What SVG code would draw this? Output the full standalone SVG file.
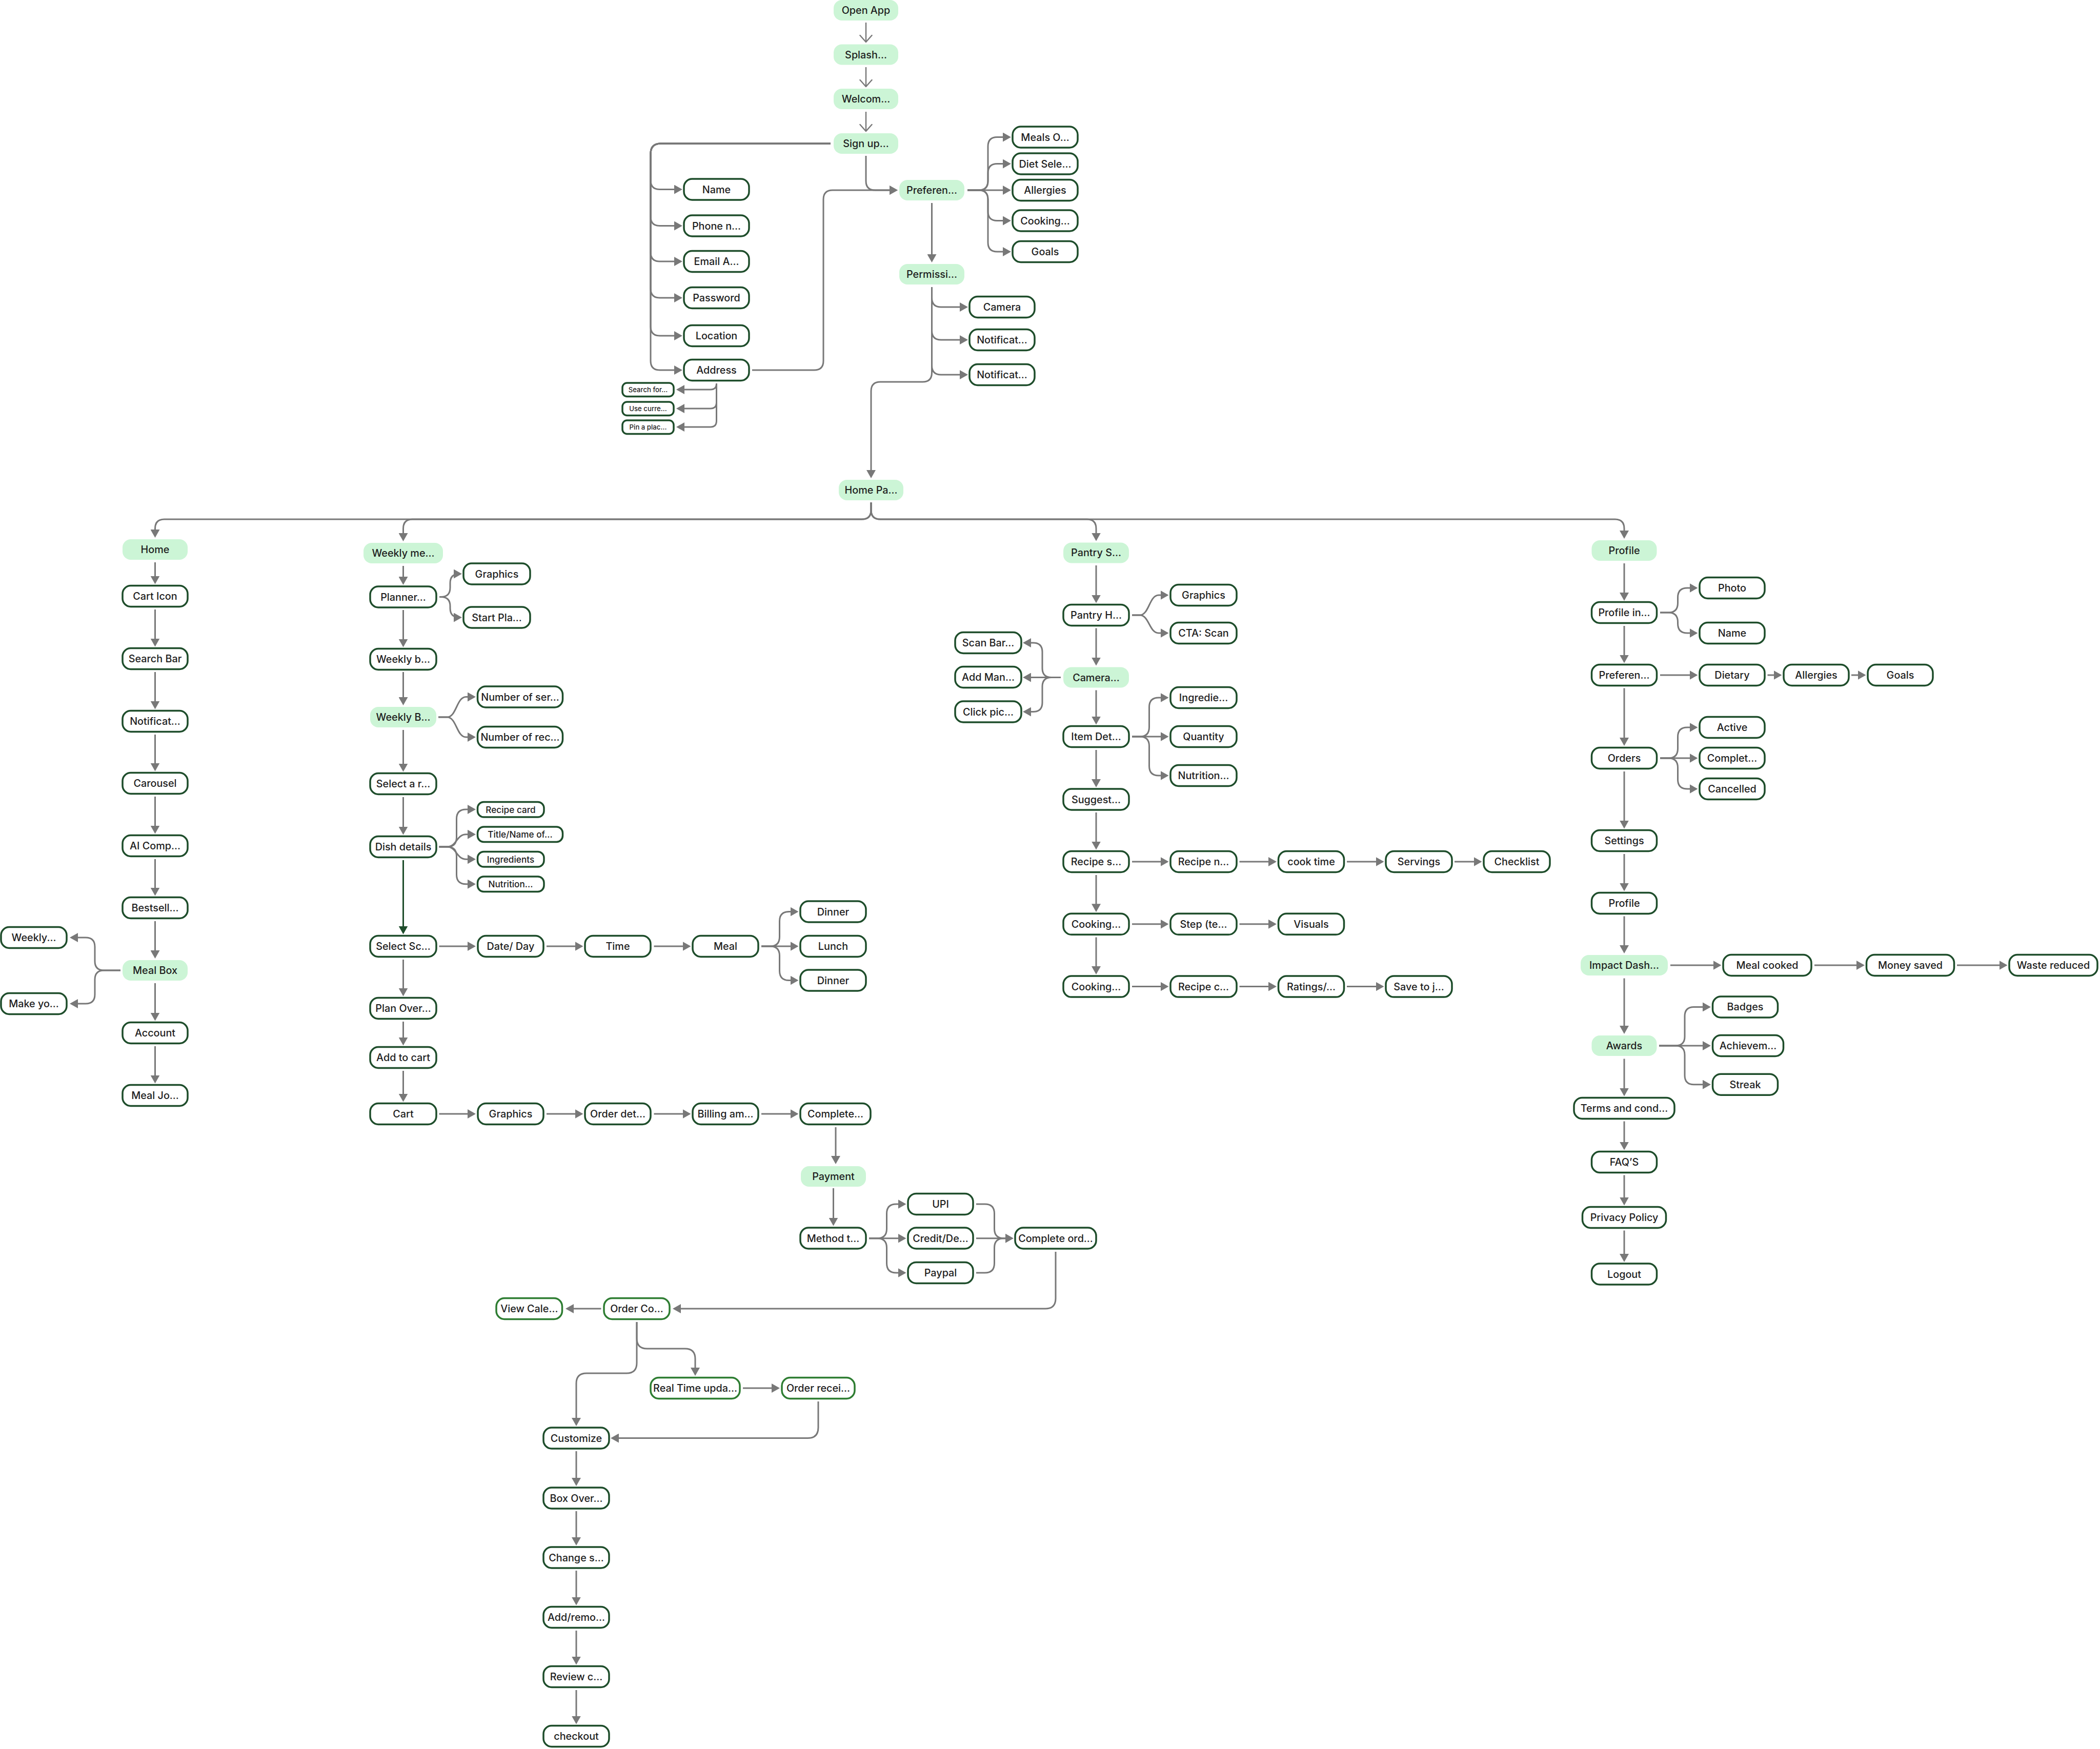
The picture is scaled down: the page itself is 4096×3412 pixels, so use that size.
<svg xmlns="http://www.w3.org/2000/svg" width="4096" height="3412" viewBox="0 0 4096 3412">
<style>
.w rect{fill:#ffffff;stroke:#1e4d2b;stroke-width:3.5}
.b rect{fill:#ffffff;stroke:#2e7d32;stroke-width:3.5}
.g rect{fill:#ccf5d6}
text{font-family:Inter,"Liberation Sans",sans-serif;font-size:19.8px;font-weight:500;fill:#1e1e1e;text-anchor:middle;dominant-baseline:central}
.s text{font-size:17.2px}
.t text{font-size:13.2px}
#connectors path{fill:none;stroke:#787878;stroke-width:3;marker-end:url(#a)}
#connectors path.v{stroke-width:2.5;marker-end:url(#v)}
#connectors path.d{stroke:#1e4d2b;marker-end:url(#ad)}
</style>
<defs>
<marker id="a" markerUnits="userSpaceOnUse" viewBox="0 0 16 18" markerWidth="16" markerHeight="18" refX="13" refY="9" orient="auto"><path d="M0,0L16,9L0,18z" fill="#787878"/></marker>
<marker id="ad" markerUnits="userSpaceOnUse" viewBox="0 0 16 18" markerWidth="16" markerHeight="18" refX="13" refY="9" orient="auto"><path d="M0,0L16,9L0,18z" fill="#1e4d2b"/></marker>
<marker id="v" markerUnits="userSpaceOnUse" viewBox="-2 -2 17 27" markerWidth="17" markerHeight="27" refX="13" refY="11.5" orient="auto"><path d="M0,0L13,11.5L0,23" fill="none" stroke="#787878" stroke-width="2.5" stroke-linejoin="round" stroke-linecap="round"/></marker>
</defs>
<rect x="0" y="0" width="4096" height="3412" fill="#ffffff"/>

<g id="connectors">
<path class="v" d="M1689,44V82"/>
<path class="v" d="M1689,131V169"/>
<path class="v" d="M1689,218V256"/>
<path d="M1620,280H1289Q1269,280 1269,300V351.5Q1269,369.5 1287,369.5H1328"/>
<path d="M1620,280H1289Q1269,280 1269,300V422.5Q1269,440.5 1287,440.5H1328"/>
<path d="M1620,280H1289Q1269,280 1269,300V492Q1269,510 1287,510H1328"/>
<path d="M1620,280H1289Q1269,280 1269,300V563Q1269,581 1287,581H1328"/>
<path d="M1620,280H1289Q1269,280 1269,300V637Q1269,655 1287,655H1328"/>
<path d="M1620,280H1289Q1269,280 1269,300V704Q1269,722 1287,722H1328"/>
<path d="M1689,304V353Q1689,371 1707,371H1748"/>
<path d="M1467,722H1588Q1606,722 1606,704V389Q1606,371 1624,371H1748"/>
<path d="M1887,371H1909Q1927,371 1927,353V285.5Q1927,267.5 1945,267.5H1969"/>
<path d="M1887,371H1909Q1927,371 1927,353V337.5Q1927,319.5 1945,319.5H1969"/>
<path d="M1887,371H1969"/>
<path d="M1887,371H1909Q1927,371 1927,389V412.5Q1927,430.5 1945,430.5H1969"/>
<path d="M1887,371H1909Q1927,371 1927,389V473Q1927,491 1945,491H1969"/>
<path d="M1817.5,396V509"/>
<path d="M1817.5,560V581Q1817.5,599 1835.5,599H1885"/>
<path d="M1817.5,560V645Q1817.5,663 1835.5,663H1885"/>
<path d="M1817.5,560V713Q1817.5,731 1835.5,731H1885"/>
<path d="M1817.5,560V727Q1817.5,745 1799.5,745H1717Q1699,745 1699,763V930"/>
<path d="M1397.5,748Q1397.5,760 1385.5,760H1322"/>
<path d="M1397.5,748V785Q1397.5,797 1385.5,797H1322"/>
<path d="M1397.5,748V821Q1397.5,833 1385.5,833H1322"/>
<path d="M1699,980V995Q1699,1013 1681,1013H320.5Q302.5,1013 302.5,1031V1046"/>
<path d="M1699,980V995Q1699,1013 1681,1013H804.5Q786.5,1013 786.5,1031V1053"/>
<path d="M1699,980V995Q1699,1013 1717,1013H2120Q2138,1013 2138,1031V1052.5"/>
<path d="M1699,980V995Q1699,1013 1717,1013H3150Q3168,1013 3168,1031V1048"/>
<path d="M302.5,1097V1136.5"/>
<path d="M302.5,1189V1258.5"/>
<path d="M302.5,1311V1380.5"/>
<path d="M302.5,1433V1501.5"/>
<path d="M302.5,1554V1623.5"/>
<path d="M302.5,1676V1744.5"/>
<path d="M302.5,1797V1867"/>
<path d="M302.5,1918V1988.5"/>
<path d="M302.5,2041V2110.5"/>
<path d="M235,1893H203Q185,1893 185,1875V1847Q185,1829 167,1829H139"/>
<path d="M235,1893H203Q185,1893 185,1911V1940Q185,1958 167,1958H139"/>
<path d="M786.5,1104V1138"/>
<path d="M786.5,1190V1259.5"/>
<path d="M786.5,1311V1373"/>
<path d="M786.5,1424V1502.5"/>
<path d="M786.5,1555V1625.5"/>
<path class="d" d="M786.5,1678V1819.5"/>
<path d="M786.5,1872V1940.5"/>
<path d="M786.5,1993V2036.5"/>
<path d="M786.5,2089V2146.5"/>
<path d="M857,1164.5H860Q878,1164.5 878,1146.5V1137.5Q878,1119.5 896,1119.5H898"/>
<path d="M857,1164.5H860Q878,1164.5 878,1182.5V1186.5Q878,1204.5 896,1204.5H898"/>
<path d="M855,1399H872C890.5,1399 890.5,1359.5 909,1359.5H925"/>
<path d="M855,1399H872C890.5,1399 890.5,1438 909,1438H925"/>
<path d="M856.5,1652H872Q890.5,1652 890.5,1633.5V1597.5Q890.5,1579 909,1579H925"/>
<path d="M856.5,1652H872C890.5,1652 890.5,1627.7 909,1627.7H925"/>
<path d="M856.5,1652H872C890.5,1652 890.5,1676.3 909,1676.3H925"/>
<path d="M856.5,1652H872Q890.5,1652 890.5,1670.5V1706.2Q890.5,1724.7 909,1724.7H925"/>
<path d="M856.5,1846H925"/>
<path d="M1066,1846H1134.5"/>
<path d="M1275.5,1846H1344.5"/>
<path d="M1485,1846H1502Q1520.5,1846 1520.5,1827.5V1797Q1520.5,1778.5 1539,1778.5H1554.5"/>
<path d="M1485,1846H1554.5"/>
<path d="M1485,1846H1502Q1520.5,1846 1520.5,1864.5V1894Q1520.5,1912.5 1539,1912.5H1554.5"/>
<path d="M856.5,2173H925"/>
<path d="M1066,2173H1134.5"/>
<path d="M1275.5,2173H1344.5"/>
<path d="M1485,2173H1554.5"/>
<path d="M1630,2199V2268"/>
<path d="M1625.5,2318V2388.5"/>
<path d="M1695,2415.7H1711Q1729.5,2415.7 1729.5,2397.2V2367.5Q1729.5,2349 1748,2349H1764.5"/>
<path d="M1695,2415.7H1764.5"/>
<path d="M1695,2415.7H1711Q1729.5,2415.7 1729.5,2434.2V2464.5Q1729.5,2483 1748,2483H1764.5"/>
<path d="M1904,2349H1921Q1939.5,2349 1939.5,2367.5V2397.2Q1939.5,2415.7 1958,2415.7H1973.5"/>
<path d="M1904,2415.7H1973.5"/>
<path d="M1904,2483H1921Q1939.5,2483 1939.5,2464.5V2434.2Q1939.5,2415.7 1958,2415.7H1973.5"/>
<path d="M2059,2442V2533Q2059,2553 2039,2553H1315"/>
<path d="M1172.5,2553H1106"/>
<path d="M1242,2579V2611Q1242,2631 1262,2631H1336Q1356,2631 1356,2651V2681"/>
<path d="M1242,2579V2659Q1242,2679 1222,2679H1144Q1124,2679 1124,2699V2779"/>
<path d="M1449,2708H1518"/>
<path d="M1596,2734V2785Q1596,2805.5 1575.5,2805.5H1194"/>
<path d="M1124,2831V2896"/>
<path d="M1124,2948V3012"/>
<path d="M1124,3064V3128.5"/>
<path d="M1124,3181V3244.5"/>
<path d="M1124,3297V3360.5"/>
<path d="M2138,1103V1173.5"/>
<path d="M2138,1225.5V1295.5"/>
<path d="M2138,1346.5V1410.5"/>
<path d="M2138,1463V1533"/>
<path d="M2138,1585V1654.5"/>
<path d="M2138,1707V1776.3"/>
<path d="M2138,1828.5V1898"/>
<path d="M2208,1200H2223C2241.5,1200 2241.5,1161 2260,1161H2276.5"/>
<path d="M2208,1200H2223C2241.5,1200 2241.5,1235 2260,1235H2276.5"/>
<path d="M2069,1321.5H2051Q2033,1321.5 2033,1303.5V1272Q2033,1254 2015,1254H1998"/>
<path d="M2069,1321.5H1998"/>
<path d="M2069,1321.5H2051Q2033,1321.5 2033,1339.5V1370.5Q2033,1388.5 2015,1388.5H1998"/>
<path d="M2208,1437H2223Q2241.5,1437 2241.5,1418.5V1379.5Q2241.5,1361 2260,1361H2276.5"/>
<path d="M2208,1437H2276.5"/>
<path d="M2208,1437H2223Q2241.5,1437 2241.5,1455.5V1494.5Q2241.5,1513 2260,1513H2276.5"/>
<path d="M2208,1681H2276.5"/>
<path d="M2417.5,1681H2487"/>
<path d="M2627,1681H2696.5"/>
<path d="M2837,1681H2887.5"/>
<path d="M2208,1802.8H2276.5"/>
<path d="M2417.5,1802.8H2487"/>
<path d="M2208,1924.6H2276.5"/>
<path d="M2417.5,1924.6H2487"/>
<path d="M2627,1924.6H2696.5"/>
<path d="M3168,1099V1169"/>
<path d="M3168,1221V1290.5"/>
<path d="M3168,1342.5V1452"/>
<path d="M3168,1505V1613.5"/>
<path d="M3168,1666V1735.5"/>
<path d="M3168,1787.5V1857"/>
<path d="M3168,1908.5V2014"/>
<path d="M3168,2065.5V2135.5"/>
<path d="M3168,2187.5V2240.5"/>
<path d="M3168,2292.5V2348.5"/>
<path d="M3168,2400.5V2459"/>
<path d="M3238,1195H3254Q3272.5,1195 3272.5,1176.5V1165.5Q3272.5,1147 3291,1147H3308.5"/>
<path d="M3238,1195H3254Q3272.5,1195 3272.5,1213.5V1216.5Q3272.5,1235 3291,1235H3308.5"/>
<path d="M3238,1317H3308.5"/>
<path d="M3447.5,1317H3472.5"/>
<path d="M3611,1317H3636.5"/>
<path d="M3238,1479H3254Q3272.5,1479 3272.5,1460.5V1437.5Q3272.5,1419 3291,1419H3308.5"/>
<path d="M3238,1479H3308.5"/>
<path d="M3238,1479H3254Q3272.5,1479 3272.5,1497.5V1520.5Q3272.5,1539 3291,1539H3308.5"/>
<path d="M3258,1883H3354.5"/>
<path d="M3539,1883H3634"/>
<path d="M3817,1883H3912.5"/>
<path d="M3236,2040H3268Q3286,2040 3286,2022V1982.4Q3286,1964.4 3304,1964.4H3334"/>
<path d="M3236,2040H3334"/>
<path d="M3236,2040H3268Q3286,2040 3286,2058V2097.7Q3286,2115.7 3304,2115.7H3334"/>
</g>

<!-- top flow -->
<g id="open-app" class="g"><rect x="1626" y="0" width="126" height="40" rx="16"/><text x="1689" y="20">Open App</text></g>
<g id="splash" class="g"><rect x="1626" y="86.5" width="126" height="40" rx="16"/><text x="1689" y="106.5">Splash...</text></g>
<g id="welcome" class="g"><rect x="1626" y="173" width="126" height="40" rx="16"/><text x="1689" y="193">Welcom...</text></g>
<g id="signup" class="g"><rect x="1626" y="260" width="126" height="40" rx="16"/><text x="1689" y="280">Sign up...</text></g>
<g id="name" class="w"><rect x="1334" y="349" width="127" height="41" rx="16"/><text x="1397.5" y="369.5">Name</text></g>
<g id="phone" class="w"><rect x="1334" y="420" width="127" height="41" rx="16"/><text x="1397.5" y="440.5">Phone n...</text></g>
<g id="email" class="w"><rect x="1334" y="489.5" width="127" height="41" rx="16"/><text x="1397.5" y="510">Email A...</text></g>
<g id="password" class="w"><rect x="1334" y="560.5" width="127" height="41" rx="16"/><text x="1397.5" y="581">Password</text></g>
<g id="location" class="w"><rect x="1334" y="634.5" width="127" height="41" rx="16"/><text x="1397.5" y="655">Location</text></g>
<g id="address" class="w"><rect x="1334" y="701.5" width="127" height="41" rx="16"/><text x="1397.5" y="722">Address</text></g>
<g id="search-for" class="w t"><rect x="1214" y="747" width="100" height="26.5" rx="9"/><text x="1264" y="760">Search for...</text></g>
<g id="use-current" class="w t"><rect x="1214" y="784" width="100" height="26.5" rx="9"/><text x="1264" y="797">Use curre...</text></g>
<g id="pin-place" class="w t"><rect x="1214" y="820" width="100" height="26.5" rx="9"/><text x="1264" y="833">Pin a plac...</text></g>
<g id="preferences" class="g"><rect x="1754" y="351" width="127" height="40" rx="16"/><text x="1817.5" y="371">Preferen...</text></g>
<g id="meals-o" class="w"><rect x="1975" y="247" width="127" height="41" rx="16"/><text x="2038.5" y="267.5">Meals O...</text></g>
<g id="diet-sel" class="w"><rect x="1975" y="299" width="127" height="41" rx="16"/><text x="2038.5" y="319.5">Diet Sele...</text></g>
<g id="allergies" class="w"><rect x="1975" y="350.5" width="127" height="41" rx="16"/><text x="2038.5" y="371">Allergies</text></g>
<g id="cooking-pref" class="w"><rect x="1975" y="410" width="127" height="41" rx="16"/><text x="2038.5" y="430.5">Cooking...</text></g>
<g id="goals" class="w"><rect x="1975" y="470.5" width="127" height="41" rx="16"/><text x="2038.5" y="491">Goals</text></g>
<g id="permissions" class="g"><rect x="1754" y="515" width="127" height="40" rx="16"/><text x="1817.5" y="535">Permissi...</text></g>
<g id="perm-camera" class="w"><rect x="1891" y="578.5" width="127" height="41" rx="16"/><text x="1954.5" y="599">Camera</text></g>
<g id="perm-notif1" class="w"><rect x="1891" y="642.5" width="127" height="41" rx="16"/><text x="1954.5" y="663">Notificat...</text></g>
<g id="perm-notif2" class="w"><rect x="1891" y="710.5" width="127" height="41" rx="16"/><text x="1954.5" y="731">Notificat...</text></g>
<g id="home-page" class="g"><rect x="1636" y="936" width="126" height="40" rx="16"/><text x="1699" y="956">Home Pa...</text></g>

<!-- home column -->
<g id="home" class="g"><rect x="239" y="1052" width="127" height="40" rx="16"/><text x="302.5" y="1072">Home</text></g>
<g id="cart-icon" class="w"><rect x="239" y="1142.5" width="127" height="41" rx="16"/><text x="302.5" y="1163">Cart Icon</text></g>
<g id="search-bar" class="w"><rect x="239" y="1264.5" width="127" height="41" rx="16"/><text x="302.5" y="1285">Search Bar</text></g>
<g id="home-notif" class="w"><rect x="239" y="1386.5" width="127" height="41" rx="16"/><text x="302.5" y="1407">Notificat...</text></g>
<g id="carousel" class="w"><rect x="239" y="1507.5" width="127" height="41" rx="16"/><text x="302.5" y="1528">Carousel</text></g>
<g id="ai-comp" class="w"><rect x="239" y="1629.5" width="127" height="41" rx="16"/><text x="302.5" y="1650">AI Comp...</text></g>
<g id="bestsell" class="w"><rect x="239" y="1750.5" width="127" height="41" rx="16"/><text x="302.5" y="1771">Bestsell...</text></g>
<g id="meal-box" class="g"><rect x="239" y="1873" width="127" height="40" rx="16"/><text x="302.5" y="1893">Meal Box</text></g>
<g id="account" class="w"><rect x="239" y="1994.5" width="127" height="41" rx="16"/><text x="302.5" y="2015">Account</text></g>
<g id="meal-jo" class="w"><rect x="239" y="2116.5" width="127" height="41" rx="16"/><text x="302.5" y="2137">Meal Jo...</text></g>
<g id="weekly-left" class="w"><rect x="2" y="1808.5" width="128" height="41" rx="16"/><text x="66" y="1829">Weekly...</text></g>
<g id="make-yo" class="w"><rect x="2" y="1937.5" width="128" height="41" rx="16"/><text x="66" y="1958">Make yo...</text></g>

<!-- weekly column -->
<g id="weekly-me" class="g"><rect x="709" y="1059" width="155" height="40" rx="16"/><text x="786.5" y="1079">Weekly me...</text></g>
<g id="planner" class="w"><rect x="722" y="1144" width="129" height="41" rx="16"/><text x="786.5" y="1164.5">Planner...</text></g>
<g id="w-graphics" class="w"><rect x="904" y="1099" width="130" height="41" rx="16"/><text x="969" y="1119.5">Graphics</text></g>
<g id="start-pla" class="w"><rect x="904" y="1184" width="130" height="41" rx="16"/><text x="969" y="1204.5">Start Pla...</text></g>
<g id="weekly-b" class="w"><rect x="722" y="1265.5" width="129" height="41" rx="16"/><text x="786.5" y="1286">Weekly b...</text></g>
<g id="weekly-B" class="g"><rect x="722" y="1379" width="129" height="40" rx="16"/><text x="786.5" y="1399">Weekly B...</text></g>
<g id="num-ser" class="w"><rect x="931.5" y="1339" width="166" height="41" rx="16"/><text x="1014.5" y="1359.5">Number of ser...</text></g>
<g id="num-rec" class="w"><rect x="931.5" y="1417.5" width="166" height="41" rx="16"/><text x="1014.5" y="1438">Number of rec...</text></g>
<g id="select-r" class="w"><rect x="722" y="1508.5" width="129" height="41" rx="16"/><text x="786.5" y="1529">Select a r...</text></g>
<g id="dish" class="w"><rect x="722" y="1631.5" width="129" height="41" rx="16"/><text x="786.5" y="1652">Dish details</text></g>
<g id="recipe-card" class="w s"><rect x="931.5" y="1564.5" width="129.5" height="29.5" rx="12"/><text x="996" y="1579">Recipe card</text></g>
<g id="title-name" class="w s"><rect x="931.5" y="1613" width="166" height="29.5" rx="12"/><text x="1014.5" y="1627.7">Title/Name of...</text></g>
<g id="ingredients" class="w s"><rect x="931.5" y="1661.5" width="129.5" height="29.5" rx="12"/><text x="996" y="1676.3">Ingredients</text></g>
<g id="nutrition-w" class="w s"><rect x="931.5" y="1710" width="129.5" height="29.5" rx="12"/><text x="996" y="1724.7">Nutrition...</text></g>
<g id="select-sc" class="w"><rect x="722" y="1825.5" width="129" height="41" rx="16"/><text x="786.5" y="1846">Select Sc...</text></g>
<g id="date-day" class="w"><rect x="932" y="1825.5" width="128" height="41" rx="16"/><text x="996" y="1846">Date/ Day</text></g>
<g id="time" class="w"><rect x="1141" y="1825.5" width="128" height="41" rx="16"/><text x="1205" y="1846">Time</text></g>
<g id="meal" class="w"><rect x="1351" y="1825.5" width="128" height="41" rx="16"/><text x="1415" y="1846">Meal</text></g>
<g id="dinner1" class="w"><rect x="1561" y="1758" width="128" height="41" rx="16"/><text x="1625" y="1778.5">Dinner</text></g>
<g id="lunch" class="w"><rect x="1561" y="1825.5" width="128" height="41" rx="16"/><text x="1625" y="1846">Lunch</text></g>
<g id="dinner2" class="w"><rect x="1561" y="1892" width="128" height="41" rx="16"/><text x="1625" y="1912.5">Dinner</text></g>
<g id="plan-over" class="w"><rect x="722" y="1946.5" width="129" height="41" rx="16"/><text x="786.5" y="1967">Plan Over...</text></g>
<g id="add-cart" class="w"><rect x="722" y="2042.5" width="129" height="41" rx="16"/><text x="786.5" y="2063">Add to cart</text></g>
<g id="cart" class="w"><rect x="722" y="2152.5" width="129" height="41" rx="16"/><text x="786.5" y="2173">Cart</text></g>
<g id="c-graphics" class="w"><rect x="932" y="2152.5" width="128" height="41" rx="16"/><text x="996" y="2173">Graphics</text></g>
<g id="order-det" class="w"><rect x="1141" y="2152.5" width="128" height="41" rx="16"/><text x="1205" y="2173">Order det...</text></g>
<g id="billing" class="w"><rect x="1351" y="2152.5" width="128" height="41" rx="16"/><text x="1415" y="2173">Billing am...</text></g>
<g id="complete" class="w"><rect x="1561" y="2152.5" width="137" height="41" rx="16"/><text x="1629.5" y="2173">Complete...</text></g>
<g id="payment" class="g"><rect x="1562" y="2275" width="127" height="40" rx="16"/><text x="1625.5" y="2295">Payment</text></g>
<g id="method" class="w"><rect x="1561" y="2395" width="128" height="41" rx="16"/><text x="1625" y="2415.7">Method t...</text></g>
<g id="upi" class="w"><rect x="1771" y="2328.5" width="127" height="41" rx="16"/><text x="1834.5" y="2349">UPI</text></g>
<g id="credit" class="w"><rect x="1771" y="2395" width="127" height="41" rx="16"/><text x="1834.5" y="2415.7">Credit/De...</text></g>
<g id="paypal" class="w"><rect x="1771" y="2462.5" width="127" height="41" rx="16"/><text x="1834.5" y="2483">Paypal</text></g>
<g id="complete-ord" class="w"><rect x="1980" y="2395" width="158" height="41" rx="16"/><text x="2059" y="2415.7">Complete ord...</text></g>
<g id="order-co" class="b"><rect x="1178" y="2532.5" width="128" height="41" rx="16"/><text x="1242" y="2553">Order Co...</text></g>
<g id="view-cal" class="b"><rect x="968" y="2532.5" width="128.5" height="41" rx="16"/><text x="1032.3" y="2553">View Cale...</text></g>
<g id="real-time" class="b"><rect x="1269" y="2687.5" width="174" height="41" rx="16"/><text x="1356" y="2708">Real Time upda...</text></g>
<g id="order-rec" class="b"><rect x="1525" y="2687.5" width="142" height="41" rx="16"/><text x="1596" y="2708">Order recei...</text></g>
<g id="customize" class="w"><rect x="1060" y="2785" width="128" height="41" rx="16"/><text x="1124" y="2805.5">Customize</text></g>
<g id="box-over" class="w"><rect x="1060" y="2902" width="128" height="41" rx="16"/><text x="1124" y="2922.5">Box Over...</text></g>
<g id="change-s" class="w"><rect x="1060" y="3018" width="128" height="41" rx="16"/><text x="1124" y="3038.6">Change s...</text></g>
<g id="add-remove" class="w"><rect x="1060" y="3134.5" width="128" height="41" rx="16"/><text x="1124" y="3155">Add/remo...</text></g>
<g id="review" class="w"><rect x="1060" y="3250.5" width="128" height="41" rx="16"/><text x="1124" y="3271">Review c...</text></g>
<g id="checkout" class="w"><rect x="1060" y="3366.5" width="128" height="41" rx="16"/><text x="1124" y="3387">checkout</text></g>

<!-- pantry column -->
<g id="pantry-s" class="g"><rect x="2074" y="1058.5" width="128" height="40" rx="16"/><text x="2138" y="1078">Pantry S...</text></g>
<g id="pantry-h" class="w"><rect x="2074" y="1179.5" width="128" height="41" rx="16"/><text x="2138" y="1200">Pantry H...</text></g>
<g id="p-graphics" class="w"><rect x="2283" y="1140.5" width="129" height="41" rx="16"/><text x="2347.5" y="1161">Graphics</text></g>
<g id="cta-scan" class="w"><rect x="2283" y="1214.5" width="129" height="41" rx="16"/><text x="2347.5" y="1235">CTA: Scan</text></g>
<g id="camera" class="g"><rect x="2074" y="1301.5" width="128" height="40" rx="16"/><text x="2138" y="1321.5">Camera...</text></g>
<g id="scan-bar" class="w"><rect x="1863" y="1233.5" width="129" height="41" rx="16"/><text x="1927.5" y="1254">Scan Bar...</text></g>
<g id="add-man" class="w"><rect x="1863" y="1300.5" width="129" height="41" rx="16"/><text x="1927.5" y="1321">Add Man...</text></g>
<g id="click-pic" class="w"><rect x="1863" y="1368" width="129" height="41" rx="16"/><text x="1927.5" y="1388.5">Click pic...</text></g>
<g id="item-det" class="w"><rect x="2074" y="1416.5" width="128" height="41" rx="16"/><text x="2138" y="1437">Item Det...</text></g>
<g id="ingredie" class="w"><rect x="2283" y="1340.5" width="129" height="41" rx="16"/><text x="2347.5" y="1361">Ingredie...</text></g>
<g id="quantity" class="w"><rect x="2283" y="1416.5" width="129" height="41" rx="16"/><text x="2347.5" y="1437">Quantity</text></g>
<g id="p-nutrition" class="w"><rect x="2283" y="1492.5" width="129" height="41" rx="16"/><text x="2347.5" y="1513">Nutrition...</text></g>
<g id="suggest" class="w"><rect x="2074" y="1539" width="128" height="41" rx="16"/><text x="2138" y="1559.5">Suggest...</text></g>
<g id="recipe-s" class="w"><rect x="2074" y="1660.5" width="128" height="41" rx="16"/><text x="2138" y="1681">Recipe s...</text></g>
<g id="recipe-n" class="w"><rect x="2283" y="1660.5" width="129" height="41" rx="16"/><text x="2347.5" y="1681">Recipe n...</text></g>
<g id="cook-time" class="w"><rect x="2493.5" y="1660.5" width="128" height="41" rx="16"/><text x="2557.5" y="1681">cook time</text></g>
<g id="servings" class="w"><rect x="2703" y="1660.5" width="129" height="41" rx="16"/><text x="2767.5" y="1681">Servings</text></g>
<g id="checklist" class="w"><rect x="2894" y="1660.5" width="129" height="41" rx="16"/><text x="2958.5" y="1681">Checklist</text></g>
<g id="cooking1" class="w"><rect x="2074" y="1782.3" width="128" height="41" rx="16"/><text x="2138" y="1802.8">Cooking...</text></g>
<g id="step" class="w"><rect x="2283" y="1782.3" width="129" height="41" rx="16"/><text x="2347.5" y="1802.8">Step (te...</text></g>
<g id="visuals" class="w"><rect x="2493.5" y="1782.3" width="128" height="41" rx="16"/><text x="2557.5" y="1802.8">Visuals</text></g>
<g id="cooking2" class="w"><rect x="2074" y="1904.1" width="128" height="41" rx="16"/><text x="2138" y="1924.6">Cooking...</text></g>
<g id="recipe-c" class="w"><rect x="2283" y="1904.1" width="129" height="41" rx="16"/><text x="2347.5" y="1924.6">Recipe c...</text></g>
<g id="ratings" class="w"><rect x="2493.5" y="1904.1" width="128" height="41" rx="16"/><text x="2557.5" y="1924.6">Ratings/...</text></g>
<g id="save-to" class="w"><rect x="2703" y="1904.1" width="129" height="41" rx="16"/><text x="2767.5" y="1924.6">Save to j...</text></g>

<!-- profile column -->
<g id="profile" class="g"><rect x="3104.5" y="1054" width="127" height="40" rx="16"/><text x="3168" y="1074">Profile</text></g>
<g id="profile-in" class="w"><rect x="3104.5" y="1174.5" width="127" height="41" rx="16"/><text x="3168" y="1195">Profile in...</text></g>
<g id="photo" class="w"><rect x="3315" y="1126.5" width="127" height="41" rx="16"/><text x="3378.5" y="1147">Photo</text></g>
<g id="p-name" class="w"><rect x="3315" y="1214.5" width="127" height="41" rx="16"/><text x="3378.5" y="1235">Name</text></g>
<g id="p-pref" class="w"><rect x="3104.5" y="1296.5" width="127" height="41" rx="16"/><text x="3168" y="1317">Preferen...</text></g>
<g id="dietary" class="w"><rect x="3315" y="1296.5" width="127" height="41" rx="16"/><text x="3378.5" y="1317">Dietary</text></g>
<g id="p-allergies" class="w"><rect x="3479" y="1296.5" width="127" height="41" rx="16"/><text x="3542.5" y="1317">Allergies</text></g>
<g id="p-goals" class="w"><rect x="3643" y="1296.5" width="127" height="41" rx="16"/><text x="3706.5" y="1317">Goals</text></g>
<g id="orders" class="w"><rect x="3104.5" y="1458.5" width="127" height="41" rx="16"/><text x="3168" y="1479">Orders</text></g>
<g id="active" class="w"><rect x="3315" y="1398.5" width="127" height="41" rx="16"/><text x="3378.5" y="1419">Active</text></g>
<g id="complet" class="w"><rect x="3315" y="1458.5" width="127" height="41" rx="16"/><text x="3378.5" y="1479">Complet...</text></g>
<g id="cancelled" class="w"><rect x="3315" y="1518.5" width="127" height="41" rx="16"/><text x="3378.5" y="1539">Cancelled</text></g>
<g id="settings" class="w"><rect x="3104.5" y="1619.5" width="127" height="41" rx="16"/><text x="3168" y="1640">Settings</text></g>
<g id="profile2" class="w"><rect x="3104.5" y="1741.5" width="127" height="41" rx="16"/><text x="3168" y="1762">Profile</text></g>
<g id="impact" class="g"><rect x="3083" y="1863" width="170" height="40" rx="16"/><text x="3168" y="1883">Impact Dash...</text></g>
<g id="meal-cooked" class="w"><rect x="3361" y="1862.5" width="172" height="41" rx="16"/><text x="3447" y="1883">Meal cooked</text></g>
<g id="money-saved" class="w"><rect x="3640.5" y="1862.5" width="171" height="41" rx="16"/><text x="3726" y="1883">Money saved</text></g>
<g id="waste" class="w"><rect x="3919" y="1862.5" width="172" height="41" rx="16"/><text x="4005" y="1883">Waste reduced</text></g>
<g id="awards" class="g"><rect x="3104.5" y="2020" width="127" height="40" rx="16"/><text x="3168" y="2040">Awards</text></g>
<g id="badges" class="w"><rect x="3340.5" y="1944" width="127" height="41" rx="16"/><text x="3404" y="1964.4">Badges</text></g>
<g id="achievem" class="w"><rect x="3340.5" y="2019.5" width="138" height="41" rx="16"/><text x="3409.5" y="2040">Achievem...</text></g>
<g id="streak" class="w"><rect x="3340.5" y="2095.2" width="127" height="41" rx="16"/><text x="3404" y="2115.7">Streak</text></g>
<g id="terms" class="w"><rect x="3070" y="2141.5" width="196" height="41" rx="16"/><text x="3168" y="2162">Terms and cond...</text></g>
<g id="faq" class="w"><rect x="3104.5" y="2246.5" width="127" height="41" rx="16"/><text x="3168" y="2267">FAQ’S</text></g>
<g id="privacy" class="w"><rect x="3086.5" y="2354.5" width="163" height="41" rx="16"/><text x="3168" y="2375">Privacy Policy</text></g>
<g id="logout" class="w"><rect x="3104.5" y="2465" width="127" height="41" rx="16"/><text x="3168" y="2485.6">Logout</text></g>
</svg>
